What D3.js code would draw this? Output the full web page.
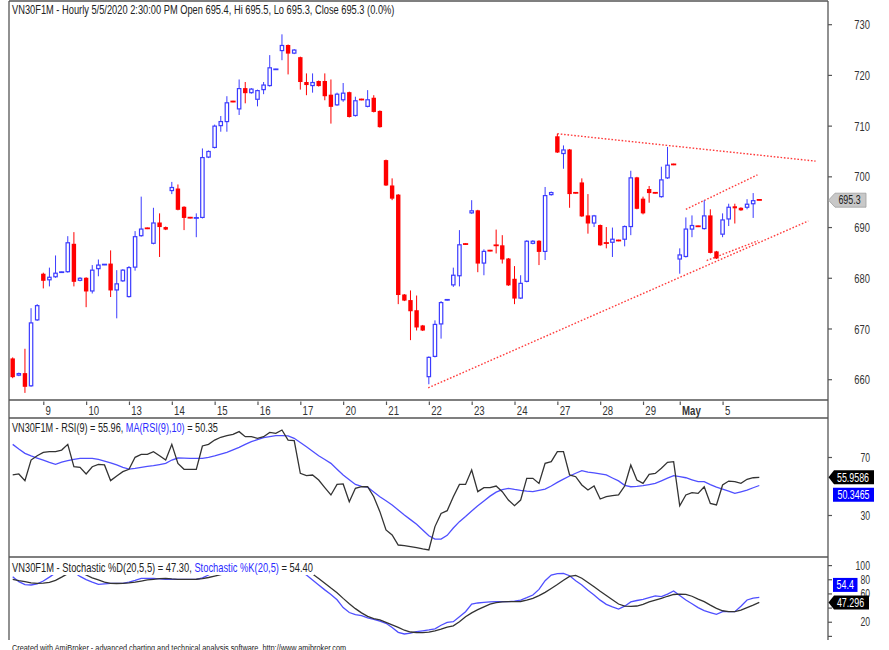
<!DOCTYPE html>
<html><head><meta charset="utf-8">
<script src="https://cdn.jsdelivr.net/npm/d3@7"></script>
<style>
body{margin:0;background:#fff}
svg{display:block}
text{font-family:"Liberation Sans",Arial,sans-serif}
</style>
</head><body>
<svg id="c" width="889" height="650"></svg>
<script>
// ---------------- DATA ----------------
const open = [664.1,660.7,661.2,658.6,671.6,680.8,679.5,680.1,681.1,681.1,
686.7,679.4,680.0,677.3,681.7,682.6,682.8,677.5,679.3,676.2,
682.0,688.2,689.8,686.7,690.9,690.0,697.1,697.6,694.0,691.9,
691.7,691.8,703.7,705.6,709.9,710.7,714.8,713.2,717.4,716.4,
715.1,717.0,717.8,721.1,724.7,725.9,724.2,723.5,718.6,717.8,
718.8,718.8,716.1,714.0,715.0,716.6,711.9,715.2,713.7,715.5,
712.9,703.2,698.2,696.4,676.7,675.6,673.6,670.6,660.4,664.4,
670.8,675.6,678.5,680.3,686.7,692.7,693.3,682.8,685.4,686.5,
686.4,683.8,679.8,675.9,679.2,686.7,687.3,685.1,696.3,707.9,
704.4,705.3,696.8,698.8,692.3,690.7,690.4,686.9,686.9,687.4,
687.5,690.0,699.8,695.6,697.5,696.8,695.9,699.6,702.4,683.6,
684.1,689.5,690.2,689.6,692.3,685.2,688.5,691.5,694.1,693.8,
693.8,694.5,695.4];
const high = [664.3,661.3,666.0,674.0,674.8,681.0,682.0,684.4,681.2,688.2,
689.0,680.1,680.1,682.5,683.6,682.7,685.4,681.5,681.7,682.3,
689.2,696.0,689.9,693.8,692.7,690.1,698.9,698.4,694.1,692.0,
692.7,705.5,705.1,710.2,711.9,715.8,714.9,719.1,718.6,717.4,
717.1,718.6,723.9,721.2,728.0,726.0,725.1,723.6,720.3,720.3,
718.9,720.3,719.1,716.5,718.4,716.7,715.7,715.3,717.0,716.0,
713.0,703.3,699.6,696.5,676.8,677.5,676.5,670.7,664.5,671.6,
675.4,675.8,682.0,689.4,686.8,695.3,693.4,685.6,685.5,689.5,
688.4,683.9,682.3,680.5,687.4,687.4,687.4,697.9,697.0,708.4,
706.1,705.4,696.9,699.6,696.5,692.4,690.5,690.0,689.9,687.5,
690.3,701.1,699.9,696.0,698.1,696.9,701.9,705.8,702.5,685.8,
691.9,692.3,690.3,695.3,693.5,685.3,692.7,694.6,694.6,693.9,
695.5,696.7,695.5];
const low = [660.2,660.6,657.3,658.5,671.5,677.9,678.3,680.0,681.0,681.0,
678.3,679.3,674.2,676.9,680.3,682.5,676.2,672.0,679.2,676.1,
681.4,688.1,689.6,686.6,684.1,689.4,696.5,693.3,689.4,691.7,
688.0,691.7,703.6,705.5,708.8,708.8,714.6,712.1,714.4,716.3,
713.8,716.2,717.7,721.0,722.9,720.1,724.1,717.1,716.0,716.5,
717.7,715.0,710.4,713.9,714.7,711.6,711.8,715.0,713.6,712.6,
709.6,698.1,695.3,674.8,675.4,667.7,669.6,669.5,659.0,664.3,
668.0,675.5,678.2,678.3,686.5,692.6,681.1,680.5,685.2,684.8,
682.8,678.4,674.8,675.8,679.1,686.6,682.5,683.5,696.2,704.6,
701.5,693.8,696.6,692.0,688.7,690.0,686.3,685.8,684.1,687.2,
686.2,688.4,693.5,692.5,694.8,696.6,695.8,699.5,702.2,680.8,
684.0,688.0,690.0,689.5,684.8,683.7,688.0,690.2,690.7,693.2,
693.5,691.8,695.3];
const close = [660.4,661.2,658.5,671.2,674.6,679.4,680.2,681.0,681.1,687.0,
679.2,680.0,677.3,681.6,682.6,682.6,677.5,678.9,681.6,682.1,
688.2,689.7,689.7,690.9,690.0,689.5,697.9,693.4,691.8,691.8,
691.9,703.8,705.0,710.0,710.9,714.6,714.7,717.4,716.4,717.3,
717.0,718.1,721.5,721.1,725.9,724.2,725.0,718.6,718.0,718.6,
717.8,715.8,713.7,716.3,716.5,711.7,715.0,715.1,715.2,712.7,
709.7,698.2,695.6,676.6,675.5,673.4,670.2,669.6,664.4,670.9,
675.2,675.7,680.6,686.6,686.6,693.3,682.8,685.3,685.3,686.3,
683.6,678.5,675.9,679.0,687.3,687.3,685.1,696.3,696.9,704.7,
705.3,696.5,696.7,692.1,690.7,692.3,686.4,686.8,687.7,687.3,
690.2,699.8,693.6,692.7,696.7,696.7,699.4,702.3,702.3,684.6,
689.7,690.4,690.1,692.3,684.9,683.8,691.5,694.0,693.7,693.3,
694.6,695.3,695.3];

// RSI(9) and its MA(10)
const rsi = [57.6,58.3,53.7,67.9,70.9,73.2,73.7,73.7,74.8,78.7,
63.3,62.9,58.3,63.3,64.9,64.5,53.7,56.9,59.9,61.5,
69.8,71.8,71.8,73.7,70.9,67.9,78.7,65.6,61.5,61.5,
61.5,77.6,78.7,81.7,83.6,84.7,85.6,87.5,84.0,84.0,
82.9,84.0,87.0,86.3,88.6,81.7,81.3,58.7,57.1,57.6,
54.1,48.9,43.8,51.1,51.4,39.2,48.4,49.5,49.5,42.6,
32.3,19.7,16.2,9.3,8.9,8.2,7.5,6.6,5.9,22.0,
31.1,33.0,42.6,51.1,51.1,61.0,46.1,48.9,48.9,50.0,
46.1,40.3,36.4,40.3,55.3,55.3,51.8,65.6,66.8,73.7,
73.7,57.6,56.4,50.7,47.2,50.0,41.0,42.6,43.3,43.8,
50.0,64.5,54.1,51.8,58.0,58.7,62.2,66.3,66.8,36.4,
43.8,45.4,44.9,49.5,38.0,36.9,50.7,53.4,53.0,51.8,
54.6,55.7,55.9586];
const rsiMa = [78.7,75.5,72.5,70.8,69.3,67.9,66.3,65.0,66.5,67.5,
68.3,69.1,69.1,69.1,68.3,67.2,66.0,64.5,62.8,61.7,
62.2,62.9,63.5,64.0,64.8,65.6,67.9,69.3,69.2,69.1,
69.1,69.1,69.8,70.7,71.9,73.2,74.9,76.7,78.7,80.6,
82.0,83.3,84.1,84.7,84.8,84.5,82.9,80.0,77.1,74.0,
70.9,68.3,65.6,61.6,57.6,54.3,51.1,49.8,49.2,45.9,
42.6,39.8,36.9,33.5,30.0,26.8,23.6,19.7,15.7,13.4,
13.4,16.0,21.0,25.4,29.0,32.8,36.3,39.7,43.0,45.8,
47.5,48.3,47.6,47.0,46.5,46.1,47.0,47.9,50.0,52.5,
54.7,56.9,58.8,60.6,59.6,59.0,58.3,57.6,55.5,53.5,
50.5,49.5,49.8,50.2,51.0,51.8,53.6,55.4,57.1,56.4,
55.7,54.3,53.0,53.0,51.0,49.2,47.9,46.5,44.9,46.0,
47.2,48.8,50.3465];

// Stochastic %D(20,5,5) and %K(20,5)
const stochD = [79.9,78.0,76.6,75.0,74.2,74.5,75.6,78.5,83.0,88.0,
91.0,90.0,86.0,82.0,79.0,76.0,74.2,74.0,74.2,75.0,
76.0,77.5,79.0,79.9,80.8,81.3,80.5,79.9,79.9,79.9,
80.0,81.0,82.5,84.5,86.5,89.0,92.0,94.0,95.0,96.0,
96.0,96.0,96.0,96.5,97.0,96.5,95.0,92.0,89.5,87.4,
81.0,74.5,67.5,61.0,53.0,45.5,38.5,32.5,27.5,24.5,
22.5,19.0,15.5,12.0,8.0,5.5,4.8,4.6,5.2,7.2,
9.5,12.5,14.2,20.0,27.0,32.5,37.0,41.0,45.0,47.0,
48.0,48.3,48.3,48.6,50.5,53.0,57.0,61.5,67.0,72.5,
78.5,84.0,85.5,81.5,75.5,69.5,63.0,57.0,51.0,45.0,
42.0,41.8,42.2,44.5,48.0,50.5,53.0,56.0,58.5,59.0,
58.7,56.0,52.0,48.3,43.5,39.0,35.5,34.2,34.2,36.5,
40.0,43.5,47.296];
const stochK = [83.7,76.6,72.5,71.9,73.5,77.5,83.0,89.0,94.0,96.0,
90.0,84.0,79.5,76.0,72.8,73.5,74.2,74.2,74.2,76.0,
78.5,81.3,81.3,81.3,80.5,79.9,79.9,79.9,79.9,79.9,
79.9,82.0,86.0,91.0,95.0,97.0,98.0,98.0,97.0,98.0,
98.0,98.0,99.0,99.0,99.0,98.0,95.0,90.0,86.0,79.0,
71.9,65.0,58.5,51.0,40.0,33.0,30.0,28.5,25.5,23.5,
21.0,17.8,12.0,5.0,2.7,4.0,6.0,7.2,8.4,10.0,
15.0,19.0,20.1,27.0,34.2,45.0,46.5,47.3,48.0,48.3,
48.3,48.5,49.0,50.5,54.0,57.8,65.7,78.0,86.0,88.0,
88.4,85.0,78.0,71.9,64.5,57.8,50.5,44.5,41.0,38.0,
42.0,48.0,50.0,51.6,54.0,56.4,55.4,59.0,63.4,57.0,
50.7,45.5,40.0,35.6,33.0,30.4,34.2,34.2,34.2,42.0,
50.7,53.5,54.4];

// Day labels (bar index of first bar of each session)
const dayLabels = ["9","10","13","14","15","16","17","20","21","22","23","24","27","28","29","May","5"];
const dayStart  = [5,12,19,26,33,40,47,54,61,68,75,82,89,96,103,109,116];
const monthLabels = ["May"];

// Axis ticks
const priceTicks = [660,670,680,690,700,710,720,730];
const rsiTicks = [30,70];
const stochTicks = [0,20,40,60,80,100];
const stochTickLabels = [20,60,80,100];   // "40" is hidden under the %D value label

// Trend lines: [startBar, startPrice, endBar, endPrice]
const trendLines = [
  [67.9, 658.3, 130.0, 691.2],
  [89.0, 708.4, 131.2, 703.0],
  [110.0, 693.5, 121.7, 700.3],
  [113.4, 683.4, 121.8, 687.3]
];

// --------------- LAYOUT ----------------
const svg = d3.select("#c");
const L = 9, R = 828;
const mainTop = 1, mainBot = 400, axBot = 418, rsiBot = 557, stBot = 640;
const BLUE = "#3b3bff", RED = "#ff0000", DARK = "#333333", FRAME = "#555555";
const n = close.length;

const x = d3.scaleLinear().domain([0, 122]).range([12.7, 759.3]);
const yMain = d3.scaleLinear().domain([660, 730]).range([379.2, 24.2]);
const yRsi = d3.scaleLinear().domain([30, 70]).range([515, 457]);
const ySt = d3.scaleLinear().domain([0, 100]).range([635.9, 565.1]);

function squeeze(sel, f) {
  sel.each(function () {
    const w = this.getComputedTextLength();
    d3.select(this).attr("textLength", w * f).attr("lengthAdjust", "spacingAndGlyphs");
  });
}
// place a (multi-colour) text, horizontally scaled to a target width
function titleText(parts, x0, yb, size, width) {
  const t = svg.append("text").attr("x", 0).attr("y", 0).attr("font-size", size);
  parts.forEach(p => t.append("tspan").attr("fill", p[1]).text(p[0]));
  const w = t.node().getComputedTextLength();
  t.attr("transform", `translate(${x0},${yb}) scale(${width / w},1)`);
  return t;
}

// clip paths
const defs = svg.append("defs");
function clip(id, y0, y1) {
  defs.append("clipPath").attr("id", id).append("rect")
    .attr("x", L).attr("y", y0).attr("width", R - L).attr("height", y1 - y0);
}
clip("cMain", mainTop, mainBot);
clip("cRsi", axBot, rsiBot);
clip("cSt", rsiBot, stBot);

// ---------- MAIN PANEL ----------
const gMain = svg.append("g").attr("clip-path", "url(#cMain)");
const bars = d3.range(n).map(i => ({i, o: open[i], h: high[i], l: low[i], c: close[i]}));
const bw = 4.4;

gMain.selectAll("line.trend").data(trendLines).join("line")
  .attr("x1", d => x(d[0])).attr("y1", d => yMain(d[1]))
  .attr("x2", d => x(d[2])).attr("y2", d => yMain(d[3]))
  .attr("stroke", "#ff3b3b").attr("stroke-width", 1.4)
  .attr("stroke-dasharray", "1.6,1.8");

const cg = gMain.selectAll("g.candle").data(bars).join("g");
cg.append("line")
  .attr("x1", d => x(d.i)).attr("x2", d => x(d.i))
  .attr("y1", d => yMain(d.h)).attr("y2", d => yMain(d.l))
  .attr("stroke", d => d.c >= d.o ? BLUE : RED).attr("stroke-width", 1);
cg.each(function (d) {
  const g = d3.select(this);
  const up = d.c >= d.o;
  const col = up ? BLUE : RED;
  const yt = yMain(Math.max(d.o, d.c)), yb = yMain(Math.min(d.o, d.c));
  if (yb - yt < 1.6) {
    g.append("line").attr("x1", x(d.i) - bw / 2 - 0.4).attr("x2", x(d.i) + bw / 2 + 0.4)
      .attr("y1", (yt + yb) / 2).attr("y2", (yt + yb) / 2)
      .attr("stroke", col).attr("stroke-width", 1.8);
  } else if (up) {
    g.append("rect").attr("x", x(d.i) - bw / 2 + 0.5).attr("y", yt + 0.5)
      .attr("width", bw - 1).attr("height", yb - yt - 1)
      .attr("fill", "#fff").attr("stroke", col).attr("stroke-width", 1.2);
  } else {
    g.append("rect").attr("x", x(d.i) - bw / 2).attr("y", yt)
      .attr("width", bw).attr("height", yb - yt).attr("fill", col);
  }
});

// ---------- RSI PANEL ----------
const gRsi = svg.append("g").attr("clip-path", "url(#cRsi)");
const lineR = d3.line().x((d, i) => x(i)).y(d => yRsi(d));
gRsi.append("path").datum(rsiMa).attr("d", lineR).attr("fill", "none")
  .attr("stroke", "#4f4fff").attr("stroke-width", 1.3);
gRsi.append("path").datum(rsi).attr("d", lineR).attr("fill", "none")
  .attr("stroke", DARK).attr("stroke-width", 1.3);

// ---------- STOCHASTIC PANEL ----------
const gSt = svg.append("g").attr("clip-path", "url(#cSt)");
const lineS = d3.line().x((d, i) => x(i)).y(d => ySt(d));
gSt.append("path").datum(stochK).attr("d", lineS).attr("fill", "none")
  .attr("stroke", "#4f4fff").attr("stroke-width", 1.3);
gSt.append("path").datum(stochD).attr("d", lineS).attr("fill", "none")
  .attr("stroke", DARK).attr("stroke-width", 1.3);

// ---------- FRAME ----------
const frame = svg.append("g").attr("stroke", FRAME).attr("stroke-width", 1.3);
frame.append("line").attr("x1", L).attr("x2", L).attr("y1", mainTop).attr("y2", stBot);
frame.append("line").attr("x1", R).attr("x2", R).attr("y1", mainTop).attr("y2", stBot);
[mainTop, mainBot, axBot, rsiBot].forEach(yy =>
  frame.append("line").attr("x1", L).attr("x2", R).attr("y1", yy).attr("y2", yy));

// ---------- AXES ----------
function styleAxis(g, size) {
  g.select(".domain").remove();
  g.selectAll(".tick line").attr("stroke", FRAME).attr("stroke-width", 1.2);
  g.selectAll(".tick text").attr("x", 42).attr("text-anchor", "end")
    .attr("font-size", size).attr("fill", "#333").attr("dy", "0.35em");
  g.selectAll(".tick text").filter(function () { return this.textContent === ""; }).remove();
  squeeze(g.selectAll(".tick text"), 0.72);
}
const axMain = svg.append("g").attr("transform", `translate(${R},0)`)
  .call(d3.axisRight(yMain).tickValues(priceTicks).tickSize(4).tickFormat(d3.format("d")));
styleAxis(axMain, 13);
const axRsi = svg.append("g").attr("transform", `translate(${R},0)`)
  .call(d3.axisRight(yRsi).tickValues(rsiTicks).tickSize(4).tickFormat(d3.format("d")));
styleAxis(axRsi, 12);
const axSt = svg.append("g").attr("transform", `translate(${R},0)`)
  .call(d3.axisRight(ySt).tickValues(stochTicks).tickSize(4)
    .tickFormat(d => stochTickLabels.includes(d) ? d3.format("d")(d) : ""));
styleAxis(axSt, 12);

// x axis (days)
const axX = svg.append("g").attr("transform", `translate(0,${mainBot + 1.5})`)
  .call(d3.axisBottom(x).tickValues(dayStart).tickSize(3.5)
    .tickFormat((d, k) => dayLabels[k]));
axX.select(".domain").remove();
axX.selectAll(".tick line").attr("stroke", FRAME).attr("stroke-width", 1.2);
axX.selectAll(".tick text").attr("x", 1.8).attr("y", 13).attr("dy", 0)
  .attr("text-anchor", "start").attr("font-size", 13).attr("fill", "#333")
  .attr("font-weight", (d, k) => monthLabels.includes(dayLabels[k]) ? "bold" : "normal");
squeeze(axX.selectAll(".tick text"), 0.74);

// ---------- VALUE LABELS ----------
function valueLabel(yc, txt, bg, fg, arrow, x0, x1, stroke) {
  const g = svg.append("g");
  const h = 7;
  const pts = arrow
    ? [[R + 0.5, yc], [x0, yc - h], [x1, yc - h], [x1, yc + h], [x0, yc + h]]
    : [[x0, yc - h], [x1, yc - h], [x1, yc + h], [x0, yc + h]];
  g.append("polygon").attr("points", pts.map(p => p.join(",")).join(" "))
    .attr("fill", bg).attr("stroke", stroke || "none").attr("stroke-width", 0.8);
  const t = g.append("text").attr("x", (x0 + x1) / 2 + (arrow ? -1 : 0)).attr("y", yc)
    .attr("dy", "0.36em").attr("text-anchor", "middle").attr("font-size", 12)
    .attr("fill", fg).text(txt);
  squeeze(t, 0.74);
}
const last = n - 1;
valueLabel(yMain(close[last]), d3.format(".1f")(close[last]), "#c8c8c8", "#222", true, 835, 866, "#a0a0a0");
const yR1 = yRsi(rsi[last]);
const yR2 = Math.max(yRsi(rsiMa[last]), yR1 + 17.5);
valueLabel(yR1, String(rsi[last]), "#000", "#fff", true, 834, 874);
valueLabel(yR2, String(rsiMa[last]), "#0000ff", "#fff", false, 833, 874);
const yS1 = ySt(stochD[last]);
const yS2 = Math.min(ySt(stochK[last]), yS1 - 17.5);
valueLabel(yS2, String(stochK[last]), "#0000ff", "#fff", false, 833, 857.5);
valueLabel(yS1, String(stochD[last]), "#000", "#fff", true, 834, 869);

// ---------- TITLES ----------
const f1 = d3.format(".1f"), f2 = d3.format(".2f");
const chg = (close[last] - close[last - 1]) / close[last - 1] * 100;
titleText([[`VN30F1M - Hourly 5/5/2020 2:30:00 PM Open ${f1(open[last])}, Hi ${f1(high[last])}, Lo ${f1(low[last])}, Close ${f1(close[last])} (${f1(chg)}%)`, "#222"]],
  12, 14, 12, 383);

titleText([
  [`VN30F1M - RSI(9) = ${f2(rsi[last])}, `, "#222"],
  ["MA(RSI(9),10)", "#2b2bff"],
  [` = ${f2(rsiMa[last])}`, "#222"]
], 12, 432, 12, 206);

// stochastic title sits on an opaque backdrop
svg.append("rect").attr("x", L + 1).attr("y", rsiBot + 1)
  .attr("width", 304).attr("height", 17).attr("fill", "#fff");
titleText([
  [`VN30F1M - Stochastic %D(20,5,5) = ${f2(stochD[last])}, `, "#222"],
  ["Stochastic %K(20,5)", "#2b2bff"],
  [` = ${f2(stochK[last])}`, "#222"]
], 12, 572, 12, 301);

// footer (partly below the picture's bottom edge, as in the original)
titleText([["Created with AmiBroker - advanced charting and technical analysis software. http://www.amibroker.com", "#222"]],
  12, 650.5, 9, 335);
</script>
</body></html>
